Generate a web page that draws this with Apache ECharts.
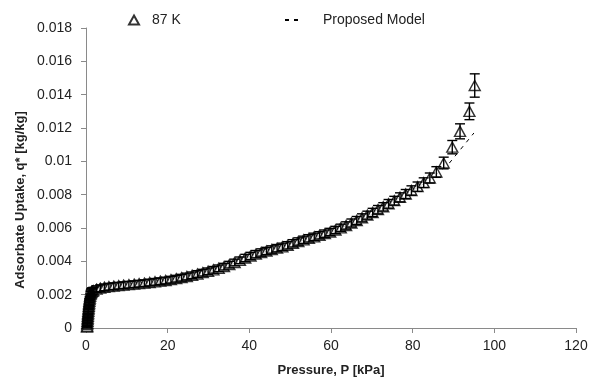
<!DOCTYPE html>
<html>
<head>
<meta charset="utf-8">
<script src="https://cdn.jsdelivr.net/npm/echarts@6/dist/echarts.min.js"></script>
<style>
  html, body { margin: 0; padding: 0; background: #fff; }
  #chart { width: 595px; height: 382px; }
</style>
</head>
<body>
<div id="chart"></div>
<script>
// Measured isotherm at 87 K: pressure [kPa], uptake [kg/kg] and its uncertainty
const pressure = [
  0.25, 0.28, 0.30, 0.33, 0.36, 0.39, 0.42, 0.45, 0.48, 0.52, 0.56, 0.60, 0.64,
  0.68, 0.72, 0.77, 0.82, 0.88, 0.94, 1.00, 1.08, 1.16, 1.25, 1.35, 1.45, 1.55,
  1.8, 2.6, 3.5, 4.5, 5.6, 6.8, 8.0, 9.2, 10.5, 11.8, 13.0, 14.3, 15.6, 16.9,
  18.2, 19.5, 20.8, 22.1, 23.4, 24.7, 26.0, 27.3, 28.6, 29.9, 31.2, 32.5, 33.8,
  35.1, 36.4, 37.7, 39.0, 40.3, 41.6, 42.9, 44.2, 45.5, 46.8, 48.1, 49.4, 50.7,
  52.0, 53.3, 54.6, 55.9, 57.2, 58.5, 59.8, 61.1, 62.4, 63.7, 65.0, 66.3, 67.6,
  68.9, 70.2, 71.5, 72.8, 74.1, 75.5, 76.9, 78.3, 79.7, 81.2, 82.7, 84.2, 85.8,
  87.6, 89.7, 91.6, 93.9, 95.2
];
const uptake = [
  0.00005, 0.00010, 0.00020, 0.00030, 0.00040, 0.00050, 0.00060, 0.00070, 0.00080,
  0.00090, 0.00100, 0.00110, 0.00120, 0.00130, 0.00140, 0.00150, 0.00160, 0.00170,
  0.00180, 0.00190, 0.00200, 0.00207, 0.00213, 0.00217, 0.00220, 0.00221,
  0.00224, 0.00233, 0.00239, 0.00244, 0.00248, 0.00251, 0.00254, 0.00257, 0.00260,
  0.00263, 0.00266, 0.00269, 0.00273, 0.00277, 0.00281, 0.00285, 0.00290, 0.00296,
  0.00302, 0.00309, 0.00316, 0.00324, 0.00332, 0.00340, 0.00349, 0.00358, 0.00368,
  0.00380, 0.00393, 0.00406, 0.00420, 0.00432, 0.00443, 0.00453, 0.00462, 0.00471,
  0.00479, 0.00487, 0.00496, 0.00508, 0.00519, 0.00529, 0.00538, 0.00547, 0.00556,
  0.00566, 0.00576, 0.00588, 0.00601, 0.00615, 0.00630, 0.00645, 0.00661, 0.00677,
  0.00693, 0.00710, 0.00727, 0.00745, 0.00764, 0.00784, 0.00804, 0.00825, 0.00848,
  0.00872, 0.00900, 0.00936, 0.00990, 0.01085, 0.01180, 0.01300, 0.01455
];
const uptakeError = [
  0.00005, 0.00005, 0.00005, 0.00005, 0.00005, 0.00005, 0.00006, 0.00007, 0.00008,
  0.00009, 0.00010, 0.00011, 0.00012, 0.00013, 0.00014, 0.00015, 0.00016, 0.00017,
  0.00018, 0.00019, 0.00020, 0.00020, 0.00020, 0.00020, 0.00020, 0.00020,
  0.00020, 0.00020, 0.00020, 0.00020, 0.00020, 0.00020, 0.00020, 0.00020, 0.00020,
  0.00020, 0.00020, 0.00020, 0.00020, 0.00020, 0.00020, 0.00020, 0.00020, 0.00020,
  0.00020, 0.00020, 0.00020, 0.00020, 0.00020, 0.00020, 0.00020, 0.00020, 0.00020,
  0.00020, 0.00020, 0.00020, 0.00022, 0.00022, 0.00022, 0.00022, 0.00022, 0.00022,
  0.00022, 0.00022, 0.00022, 0.00022, 0.00022, 0.00022, 0.00022, 0.00022, 0.00022,
  0.00022, 0.00022, 0.00022, 0.00022, 0.00022, 0.00024, 0.00024, 0.00024, 0.00024,
  0.00025, 0.00025, 0.00025, 0.00026, 0.00026, 0.00027, 0.00027, 0.00028, 0.00028,
  0.00029, 0.00030, 0.00032, 0.00035, 0.00040, 0.00045, 0.00050, 0.00070
];

// Proposed model curve
const modelPressure = [0, 0.1, 0.25, 0.5, 0.8, 1.2, 2, 4, 8, 12, 16, 20, 25, 30, 35,
  40, 45, 50, 55, 60, 65, 70, 75, 80, 84, 87, 89, 91, 93, 95];
const modelUptake = [0, 0.0006, 0.0012, 0.0017, 0.0020, 0.00215, 0.0023, 0.00242,
  0.00254, 0.00263, 0.00272, 0.00287, 0.00312, 0.0034, 0.00376, 0.00428, 0.00468,
  0.00505, 0.00538, 0.00573, 0.00628, 0.00688, 0.00758, 0.00825, 0.00885, 0.00945,
  0.0099, 0.0105, 0.0111, 0.0117];

// Axis ticks
const xTicks = { min: 0, max: 120, interval: 20 };
const yTicks = { min: 0, max: 0.018, interval: 0.002 };

const points = pressure.map((p, i) => [p, uptake[i]]);
const bars = pressure.map((p, i) => [p, uptake[i] - uptakeError[i], uptake[i] + uptakeError[i]]);
const model = modelPressure.map((p, i) => [p, modelUptake[i]]);

const FONT = '"Liberation Sans", Arial, sans-serif';
const chart = echarts.init(document.getElementById('chart'), null, { renderer: 'canvas' });

chart.setOption({
  animation: false,
  backgroundColor: '#ffffff',
  grid: { left: 86, right: 19, top: 28, bottom: 46 },
  legend: [
    {
      left: 123, top: 8, itemWidth: 10, itemHeight: 9,
      textStyle: { fontFamily: FONT, fontSize: 14, color: '#222', padding: [0, 0, 0, 8] },
      data: [{ name: '87 K', icon: 'triangle' }]
    },
    {
      left: 279, top: 8, itemWidth: 16, itemHeight: 10,
      itemStyle: { opacity: 0 },
      textStyle: { fontFamily: FONT, fontSize: 14, color: '#222', padding: [0, 0, 0, 17] },
      data: [{ name: 'Proposed Model' }]
    }
  ],
  xAxis: {
    type: 'value', min: xTicks.min, max: xTicks.max, interval: xTicks.interval,
    name: 'Pressure, P [kPa]', nameLocation: 'middle', nameGap: 36,
    nameTextStyle: { fontFamily: FONT, fontSize: 13, fontWeight: 'bold', color: '#222' },
    axisLine: { lineStyle: { color: '#8a8a8a', width: 1 } },
    axisTick: { show: true, length: 5, lineStyle: { color: '#8a8a8a' } },
    axisLabel: { fontFamily: FONT, fontSize: 14, color: '#222', margin: 11 },
    splitLine: { show: false }
  },
  yAxis: {
    type: 'value', min: yTicks.min, max: yTicks.max, interval: yTicks.interval,
    axisLine: { show: true, lineStyle: { color: '#8a8a8a', width: 1 } },
    axisTick: { show: true, length: 5, lineStyle: { color: '#8a8a8a' } },
    axisLabel: { fontFamily: FONT, fontSize: 14, color: '#222', margin: 14 },
    splitLine: { show: false }
  },
  graphic: [{
    type: 'text', x: 20, y: 200, rotation: Math.PI / 2,
    style: {
      text: 'Adsorbate Uptake, q* [kg/kg]', fontFamily: FONT, fontSize: 13,
      fontWeight: 'bold', fill: '#222', align: 'center', verticalAlign: 'middle'
    }
  }],
  series: [
    {
      name: 'Proposed Model', type: 'line', data: model, showSymbol: false,
      symbol: 'none', z: 1,
      lineStyle: { color: '#000', width: 1, type: [4, 5] },
      itemStyle: { color: '#000' }
    },
    {
      name: '87 K', type: 'scatter', data: points, symbol: 'triangle',
      symbolSize: [11, 10], z: 2,
      itemStyle: { color: '#fff', borderColor: '#000', borderWidth: 1.4 }
    },
    {
      name: 'error', type: 'custom', z: 3,
      data: bars,
      renderItem: function (params, api) {
        const x = api.value(0);
        const lo = api.coord([x, api.value(1)]);
        const hi = api.coord([x, api.value(2)]);
        const w = 5;
        const style = { stroke: '#000', lineWidth: 1.4 };
        return {
          type: 'group',
          children: [
            { type: 'line', shape: { x1: lo[0], y1: lo[1], x2: hi[0], y2: hi[1] }, style },
            { type: 'line', shape: { x1: lo[0] - w, y1: lo[1], x2: lo[0] + w, y2: lo[1] }, style },
            { type: 'line', shape: { x1: hi[0] - w, y1: hi[1], x2: hi[0] + w, y2: hi[1] }, style }
          ]
        };
      }
    }
  ]
});
</script>
</body>
</html>
